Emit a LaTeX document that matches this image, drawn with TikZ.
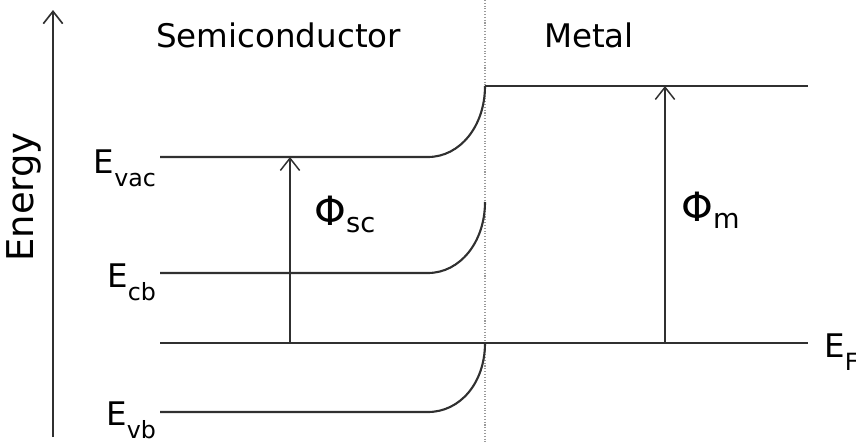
\documentclass[tikz,border=0pt]{standalone}
\usepackage{fontspec}
\setmainfont{DejaVu Sans}
\usetikzlibrary{arrows.meta}
\definecolor{level}{HTML}{303030}
\definecolor{junction}{HTML}{9A9A9A}
\newcommand{\lvlname}[2]{#1\raisebox{-0.42em}{\fontsize{13.5}{13.5}\selectfont #2}}
\newcommand{\phiname}[1]{{\fontsize{23}{23}\selectfont Φ}\raisebox{-0.4em}{\fontsize{15.5}{15.5}\selectfont #1}}

\begin{document}
\begin{tikzpicture}[x=0.02cm,y=-0.02cm,
  band/.style={level,line width=1.2pt},
  gap/.style={level,line width=0.85pt,-{Straight Barb[length=7pt,width=11pt]}},
  lbl/.style={font=\fontsize{18.5}{18.5}\selectfont}]
  \useasboundingbox (0,0) rectangle (856,443);
  \coordinate (e0) at (53,437);
  \coordinate (e1) at (53,10);
  \draw[gap,line width=0.95pt] (e0) -- (e1);
  \node[font=\fontsize{21}{21}\selectfont,rotate=90] (energy) at (24,197) {Energy};
  \node[lbl,anchor=base west] (semi) at (150,47) {Semiconductor};
  \node[lbl,anchor=base west] (metal) at (538,47) {Metal};
  \coordinate (j0) at (485,0);
  \coordinate (j1) at (485,443);
  \draw[junction,densely dotted,line width=0.6pt] (j0) -- (j1);
  \foreach \name/\y/\top/\ly in {vac/157/86/173, cb/273/202/287, vb/412/343/425} {
    \coordinate (\name0) at (160,\y);
    \coordinate (\name1) at (428,\y);
    \coordinate (\name2) at (485,\top);
    \draw[band] (\name0) -- (\name1) .. controls +(32,0) and +(0,40) .. (\name2);
    \node[lbl,anchor=base east,inner sep=1pt] (l\name) at (158,\ly) {\lvlname{E}{\name}};
  }
  \coordinate (m0) at (808,86);
  \draw[band] (vac2) -- (m0);
  \coordinate (f0) at (160,343);
  \coordinate (f1) at (808,343);
  \draw[band] (f0) -- (f1);
  \node[lbl,anchor=base west,inner sep=0pt] (lf) at (824,357) {\lvlname{E}{F}};
  \coordinate (sc0) at (290,343);
  \coordinate (sc1) at (290,157);
  \draw[gap] (sc0) -- (sc1);
  \node[anchor=base west,inner sep=0pt] (phisc) at (314,225) {\phiname{sc}};
  \coordinate (m1) at (665,343);
  \coordinate (m2) at (665,86);
  \draw[gap] (m1) -- (m2);
  \node[anchor=base west,inner sep=0pt] (phim) at (681,221) {\phiname{m}};
\end{tikzpicture}
\end{document}
